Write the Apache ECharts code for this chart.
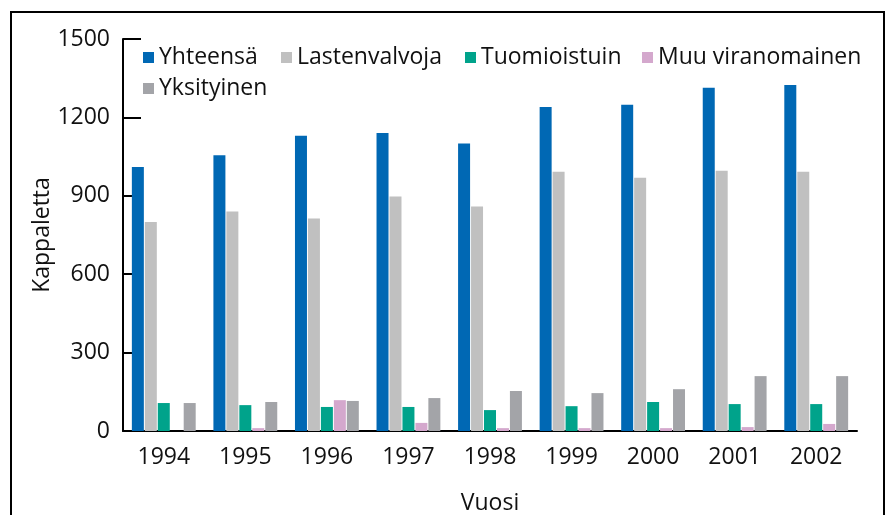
<!DOCTYPE html>
<html>
<head>
<meta charset="utf-8">
<script src="https://cdn.jsdelivr.net/npm/echarts@6/dist/echarts.min.js"></script>
<style>
  html, body { margin: 0; padding: 0; background: #fff; }
  #main { width: 889px; height: 515px; }
</style>
</head>
<body>
<div id="main"></div>
<script>
// vuodet ja sarjat
const years = ['1994', '1995', '1996', '1997', '1998', '1999', '2000', '2001', '2002']
const yhteensa = [1010, 1055, 1130, 1140, 1100, 1240, 1248, 1313, 1324]
const lastenvalvoja = [800, 840, 813, 897, 859, 992, 969, 996, 992]
const tuomioistuin = [107, 99, 92, 92, 80, 95, 111, 103, 103]
const muuViranomainen = [0, 11, 118, 31, 11, 11, 11, 15, 27]
const yksityinen = [107, 111, 115, 126, 153, 145, 160, 210, 210]

const seriesNames = ['Yhteensä', 'Lastenvalvoja', 'Tuomioistuin', 'Muu viranomainen', 'Yksityinen']
const seriesData = [yhteensa, lastenvalvoja, tuomioistuin, muuViranomainen, yksityinen]
const colors = ['#0068b4', '#c0c0c0', '#00a38b', '#d4a8cd', '#a3a4a8']

const font = 'Open Sans'
const legendPos = [[143, 46], [281, 46], [465, 46], [642, 46], [143, 77]]

const myChart = echarts.init(document.getElementById('main'))
myChart.setOption({
  animation: false,
  backgroundColor: '#fff',
  textStyle: { fontFamily: font },
  graphic: [{
    type: 'rect',
    shape: { x: 11, y: 12, width: 873, height: 600 },
    style: { fill: 'none', stroke: '#000', lineWidth: 2 },
    silent: true
  }],
  legend: seriesNames.map((n, i) => ({
    data: [n],
    left: legendPos[i][0],
    top: legendPos[i][1],
    padding: 0,
    icon: 'rect',
    itemWidth: 11,
    itemHeight: 11,
    textStyle: { fontSize: 23, color: '#111', fontFamily: font }
  })),
  grid: { left: 123, right: 32, top: 39, bottom: 84, outerBoundsMode: 'none' },
  xAxis: {
    type: 'category',
    data: years,
    name: 'Vuosi',
    nameLocation: 'middle',
    nameGap: 61,
    nameMoveOverlap: false,
    nameTextStyle: { fontSize: 23, color: '#111' },
    axisLine: { lineStyle: { color: '#000', width: 2 } },
    axisTick: { inside: true, length: 10, lineStyle: { color: '#000', width: 2 } },
    axisLabel: { fontSize: 23, color: '#111', margin: 15 }
  },
  yAxis: {
    type: 'value',
    min: 0,
    max: 1500,
    interval: 300,
    name: 'Kappaletta',
    nameLocation: 'middle',
    nameGap: 69,
    nameMoveOverlap: false,
    nameTextStyle: { fontSize: 23, color: '#111' },
    axisLine: { show: true, lineStyle: { color: '#000', width: 2 } },
    axisTick: { show: true, inside: true, length: 18, lineStyle: { color: '#000', width: 2 } },
    axisLabel: { fontSize: 23, color: '#111', margin: 13, formatter: v => String(v) },
    splitLine: { show: false }
  },
  series: seriesNames.map((n, i) => ({
    name: n,
    type: 'bar',
    data: seriesData[i],
    barWidth: 12,
    barGap: '8%',
    itemStyle: { color: colors[i] }
  }))
})
</script>
</body>
</html>
